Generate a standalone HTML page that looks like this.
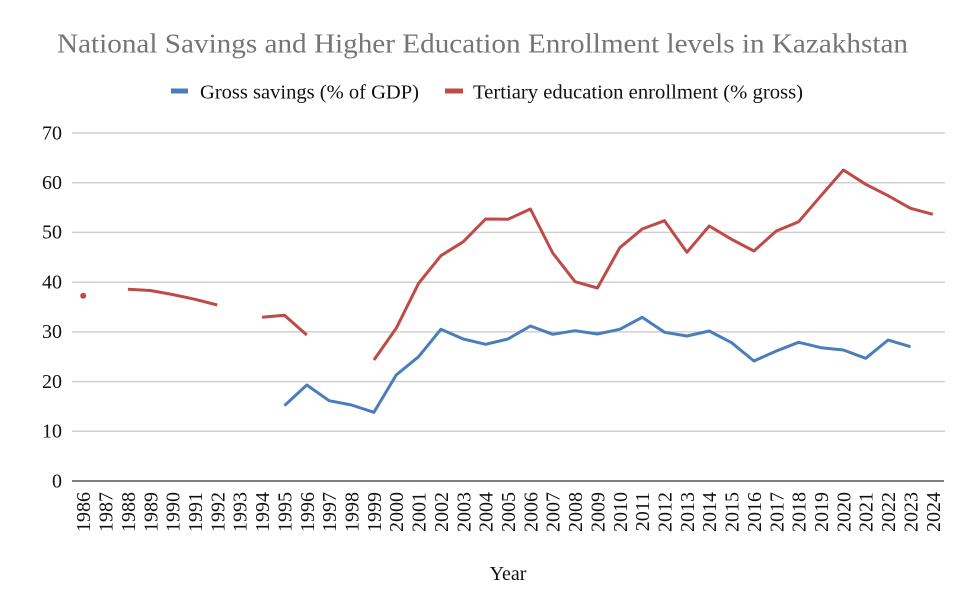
<!DOCTYPE html>
<html>
<head>
<meta charset="utf-8">
<style>
html,body{margin:0;padding:0;background:#fff;}
svg{display:block;}
text{font-family:"Liberation Serif","Times New Roman",serif;}
</style>
</head>
<body>
<svg width="975" height="615" viewBox="0 0 975 615" xmlns="http://www.w3.org/2000/svg">
<rect width="975" height="615" fill="#fff"/>
<!-- Title -->
<text x="57" y="52.7" font-size="27" fill="#757575" textLength="851" lengthAdjust="spacingAndGlyphs">National Savings and Higher Education Enrollment levels in Kazakhstan</text>
<!-- Legend -->
<rect x="171" y="88.5" width="17" height="5" fill="#4A7EBB"/>
<text x="200" y="98.3" font-size="20.5" fill="#111" textLength="219" lengthAdjust="spacingAndGlyphs">Gross savings (% of GDP)</text>
<rect x="445" y="88.5" width="18" height="5" fill="#BE4B48"/>
<text x="473" y="98.3" font-size="20.5" fill="#111" textLength="330" lengthAdjust="spacingAndGlyphs">Tertiary education enrollment (% gross)</text>

<!-- Gridlines -->
<g stroke="#d0d0d0" stroke-width="1.5">
<line x1="72" y1="133" x2="945" y2="133"/>
<line x1="72" y1="182.7" x2="945" y2="182.7"/>
<line x1="72" y1="232.4" x2="945" y2="232.4"/>
<line x1="72" y1="282.2" x2="945" y2="282.2"/>
<line x1="72" y1="331.9" x2="945" y2="331.9"/>
<line x1="72" y1="381.6" x2="945" y2="381.6"/>
<line x1="72" y1="431.3" x2="945" y2="431.3"/>
</g>
<line x1="72" y1="481" x2="944" y2="481" stroke="#555" stroke-width="1.5"/>

<!-- Y labels -->
<g font-size="20" fill="#111" text-anchor="end">
<text x="62" y="139.3">70</text>
<text x="62" y="189">60</text>
<text x="62" y="238.7">50</text>
<text x="62" y="288.5">40</text>
<text x="62" y="338.2">30</text>
<text x="62" y="387.9">20</text>
<text x="62" y="437.6">10</text>
<text x="62" y="487.3">0</text>
</g>

<!-- X labels -->
<g font-size="20" fill="#111" text-anchor="end">
<text transform="translate(90.2,492) rotate(-90)">1986</text>
<text transform="translate(112.5,492) rotate(-90)">1987</text>
<text transform="translate(134.9,492) rotate(-90)">1988</text>
<text transform="translate(157.3,492) rotate(-90)">1989</text>
<text transform="translate(179.6,492) rotate(-90)">1990</text>
<text transform="translate(202,492) rotate(-90)">1991</text>
<text transform="translate(224.3,492) rotate(-90)">1992</text>
<text transform="translate(246.7,492) rotate(-90)">1993</text>
<text transform="translate(269.1,492) rotate(-90)">1994</text>
<text transform="translate(291.4,492) rotate(-90)">1995</text>
<text transform="translate(313.8,492) rotate(-90)">1996</text>
<text transform="translate(336.1,492) rotate(-90)">1997</text>
<text transform="translate(358.5,492) rotate(-90)">1998</text>
<text transform="translate(380.9,492) rotate(-90)">1999</text>
<text transform="translate(403.2,492) rotate(-90)">2000</text>
<text transform="translate(425.6,492) rotate(-90)">2001</text>
<text transform="translate(447.9,492) rotate(-90)">2002</text>
<text transform="translate(470.3,492) rotate(-90)">2003</text>
<text transform="translate(492.6,492) rotate(-90)">2004</text>
<text transform="translate(515,492) rotate(-90)">2005</text>
<text transform="translate(537.4,492) rotate(-90)">2006</text>
<text transform="translate(559.7,492) rotate(-90)">2007</text>
<text transform="translate(582.1,492) rotate(-90)">2008</text>
<text transform="translate(604.4,492) rotate(-90)">2009</text>
<text transform="translate(626.8,492) rotate(-90)">2010</text>
<text transform="translate(649.2,492) rotate(-90)">2011</text>
<text transform="translate(671.5,492) rotate(-90)">2012</text>
<text transform="translate(693.9,492) rotate(-90)">2013</text>
<text transform="translate(716.2,492) rotate(-90)">2014</text>
<text transform="translate(738.6,492) rotate(-90)">2015</text>
<text transform="translate(760.9,492) rotate(-90)">2016</text>
<text transform="translate(783.3,492) rotate(-90)">2017</text>
<text transform="translate(805.7,492) rotate(-90)">2018</text>
<text transform="translate(828,492) rotate(-90)">2019</text>
<text transform="translate(850.4,492) rotate(-90)">2020</text>
<text transform="translate(872.7,492) rotate(-90)">2021</text>
<text transform="translate(895.1,492) rotate(-90)">2022</text>
<text transform="translate(917.5,492) rotate(-90)">2023</text>
<text transform="translate(939.8,492) rotate(-90)">2024</text>
</g>

<text x="508" y="580" font-size="20" fill="#111" text-anchor="middle">Year</text>

<!-- Gross savings (blue) -->
<polyline fill="none" stroke="#4A7EBB" stroke-width="3" stroke-linejoin="round"
points="284.4,405.7 306.8,385 329.1,400.7 351.5,405 373.9,412.3 396.2,375 418.6,356.7 440.9,329.3 463.3,339 485.6,344.3 508,339 530.4,326 552.7,334.3 575.1,330.7 597.4,334 619.8,329.3 642.2,317.3 664.5,332.3 686.9,336 709.2,331 731.6,342.7 753.9,361 776.3,351 798.7,342.3 821,347.7 843.4,350 865.7,358.3 888.1,340 910.5,346.7"/>

<!-- Tertiary (red) -->
<g fill="none" stroke="#BE4B48" stroke-width="3" stroke-linejoin="round">
<polyline points="127.9,289.3 150.3,290.5 172.6,294.5 195,299.3 217.3,305"/>
<polyline points="262.1,317.3 284.4,315.2 306.8,335"/>
<polyline points="373.9,360 396.2,328.3 418.6,283.3 440.9,255.7 463.3,241.7 485.6,219 508,219.3 530.4,209 552.7,253 575.1,281.7 597.4,288 619.8,247.7 642.2,229 664.5,220.7 686.9,252.3 709.2,226 731.6,239.3 753.9,251 776.3,231 798.7,221.7 821,195.7 843.4,170 865.7,184.3 888.1,195.7 910.5,208.3 932.8,214.3"/>
</g>
<circle cx="83.2" cy="295.7" r="3" fill="#BE4B48"/>
</svg>
</body>
</html>
